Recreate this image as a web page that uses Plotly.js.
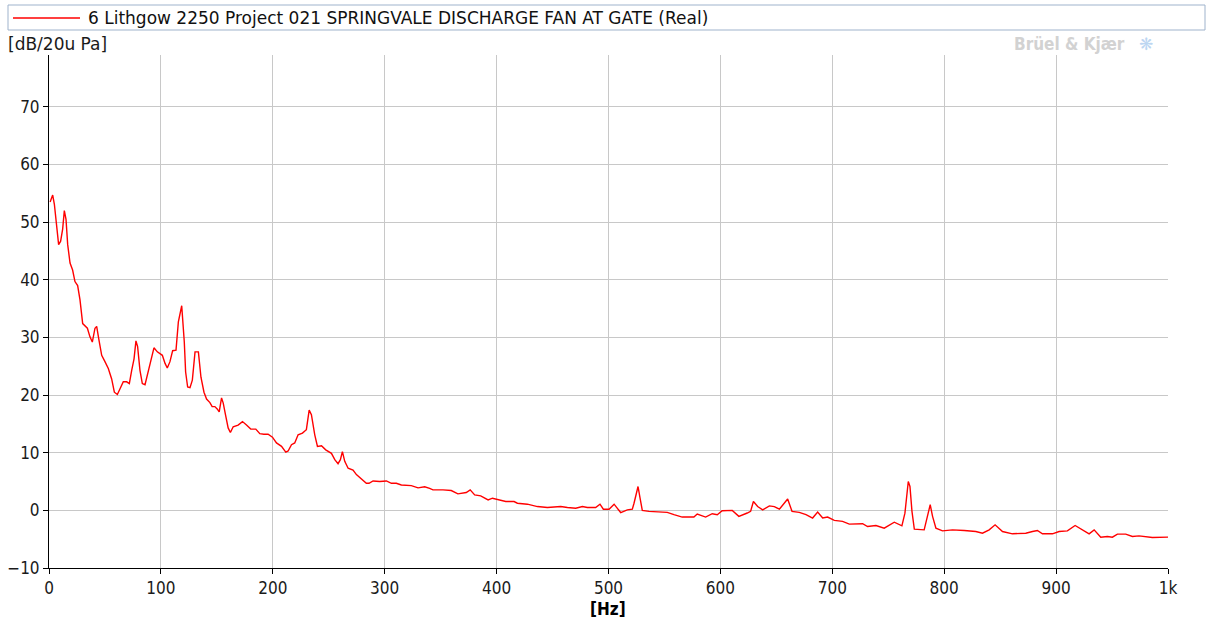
<!DOCTYPE html>
<html>
<head>
<meta charset="utf-8">
<script src="https://cdn.plot.ly/plotly-3.0.1.min.js"></script>
<style>html,body{margin:0;padding:0;background:#fff;}#chart{width:1211px;height:623px;}</style>
</head>
<body>
<div id="chart"></div>
<script>
// Frequency (Hz)
var freqHz = [
  1, 3.3, 4.8, 6.3, 8.6, 10.4, 12.2, 13.7, 15.2, 16.7, 18.8, 21.1, 23.2, 25.6, 27.7, 30.1, 32.2, 34.3, 36.6, 38.7,
  41.1, 42.6, 44.7, 47.1, 50.0, 53.0, 56.0, 58.4, 61.1, 63.4, 66.4, 69.4, 71.8, 73.9, 76.0, 77.7, 79.2, 81.3, 83.4, 85.8,
  88.2, 90.9, 93.8, 96.8, 99.2, 101.3, 103.7, 105.7, 108.1, 110.5, 113.5, 115.6, 118.6, 120.9, 122.1, 123.9, 126.0, 128.1, 130.5, 133.5,
  135.8, 138.5, 140.8, 143.8, 145.8, 148.2, 150.3, 152.1, 154.2, 155.7, 157.7, 160.1, 162.1, 164.6, 169.0, 172.9, 176.5, 180.3, 184.8, 188.4,
  192.0, 195.8, 199.7, 203.3, 207.8, 211.6, 213.7, 216.7, 219.6, 222.6, 226.5, 230.0, 232.5, 234.5, 237.5, 239.9, 243.5, 247.3, 252.4, 255.4,
  258.3, 260.4, 262.2, 264.3, 267.3, 271.7, 274.7, 279.2, 283.6, 286.0, 289.6, 295.5, 301.5, 306.0, 310.4, 314.9, 323.8, 329.8, 335.7, 340.2,
  343.1, 352.1, 359.5, 365.4, 372.9, 376.4, 380.4, 385.8, 392.4, 396.3, 403.7, 408.2, 415.6, 418.6, 427.5, 436.5, 445.4, 457.3, 463.3, 470.7,
  476.7, 481.1, 488.5, 492.4, 495.4, 500.5, 505.0, 510.9, 516.8, 521.3, 522.8, 526.4, 528.2, 530.2, 536.2, 543.6, 552.5, 558.5, 565.9, 576.3,
  579.3, 586.8, 592.7, 597.2, 601.6, 610.6, 616.5, 624.0, 627.0, 629.5, 633.3, 637.8, 643.8, 648.2, 652.7, 660.1, 664.0, 670.5, 676.5, 682.4,
  686.9, 691.4, 695.8, 701.8, 709.2, 715.2, 727.1, 731.5, 739.0, 746.4, 755.4, 762.2, 764.9, 767.9, 769.4, 771.2, 773.3, 782.1, 785.1, 787.5,
  789.6, 792.6, 798.5, 807.4, 817.9, 828.3, 834.2, 840.2, 845.5, 852.1, 861.0, 872.9, 878.9, 883.3, 887.8, 896.7, 902.7, 910.1, 917.0, 923.5,
  929.5, 934.0, 939.9, 945.8, 950.3, 954.8, 962.2, 968.2, 974.1, 986.0, 997.9, 1000
];
// Level (dB re 20 uPa)
var levelDb = [
  53.5, 54.7, 53.1, 49.9, 46.1, 46.7, 48.8, 52.0, 50.5, 46.1, 42.9, 41.7, 39.7, 39.0, 36.5, 32.4, 31.9, 31.6, 30.1, 29.2,
  31.6, 31.9, 29.5, 26.9, 25.8, 24.6, 22.8, 20.5, 20.1, 21.1, 22.3, 22.3, 22.0, 24.3, 26.3, 29.4, 28.4, 24.3, 22.0, 21.8,
  23.7, 26.3, 28.2, 27.5, 27.2, 26.9, 25.5, 24.7, 25.8, 27.7, 27.8, 32.7, 35.5, 29.2, 24.0, 21.4, 21.3, 22.6, 27.5, 27.5,
  23.1, 20.5, 19.3, 18.7, 18.0, 18.0, 17.6, 17.1, 19.5, 18.6, 16.6, 14.3, 13.5, 14.5, 14.8, 15.4, 14.8, 14.1, 14.1, 13.3,
  13.2, 13.2, 12.7, 11.7, 11.1, 10.1, 10.3, 11.4, 11.7, 13.1, 13.4, 14.0, 17.4, 16.6, 13.1, 11.1, 11.2, 10.5, 9.9, 8.8,
  8.1, 8.8, 10.2, 8.5, 7.3, 7.0, 6.2, 5.4, 4.7, 4.7, 5.1, 5.0, 5.1, 4.7, 4.7, 4.4, 4.3, 3.9, 4.1, 3.8,
  3.56, 3.56, 3.44, 2.86, 3.09, 3.56, 2.69, 2.52, 1.82, 2.11, 1.82, 1.53, 1.53, 1.24, 1.07, 0.66, 0.49, 0.66, 0.49, 0.38,
  0.66, 0.49, 0.49, 1.07, 0.20, 0.20, 1.07, -0.38, 0.09, 0.20, 1.24, 4.14, 2.11, 0.0, -0.17, -0.29, -0.35, -0.75, -1.16, -1.16,
  -0.64, -1.16, -0.58, -0.75, -0.06, 0.0, -1.04, -0.46, -0.17, 1.53, 0.66, 0.09, 0.78, 0.66, 0.20, 1.97, -0.17, -0.35, -0.75, -1.33,
  -0.29, -1.33, -1.16, -1.74, -1.91, -2.38, -2.32, -2.80, -2.63, -3.09, -2.05, -2.69, -0.49, 5.01, 4.14, -0.17, -3.27, -3.38, -1.04, 0.98,
  -1.04, -3.09, -3.56, -3.38, -3.50, -3.67, -3.96, -3.38, -2.51, -3.67, -4.07, -3.96, -3.67, -3.50, -4.07, -4.07, -3.67, -3.56, -2.63, -3.38,
  -4.07, -3.38, -4.65, -4.53, -4.65, -4.13, -4.13, -4.53, -4.42, -4.71, -4.65, -4.65
];
var xTickVals = [0, 100, 200, 300, 400, 500, 600, 700, 800, 900, 1000];
var xTickText = ["0", "100", "200", "300", "400", "500", "600", "700", "800", "900", "1k"];
var yTickVals = [-10, 0, 10, 20, 30, 40, 50, 60, 70];
var seriesName = "6 Lithgow 2250 Project 021 SPRINGVALE DISCHARGE FAN AT GATE (Real)";

var FONT = "'DejaVu Sans Condensed', Tahoma, 'DejaVu Sans', sans-serif";
var FONT_WIDE = "'DejaVu Sans', Verdana, sans-serif";
var W = 1211, H = 623, ML = 49, MR = 43, MT = 55, MB = 55;
var PW = W - ML - MR, PH = H - MT - MB;
function px2x(px) { return (px - ML) / PW; }
function py2y(py) { return (H - MB - py) / PH; }

var trace = {
  x: freqHz, y: levelDb, type: 'scatter', mode: 'lines', name: seriesName,
  line: {color: '#ff0000', width: 1.4}, showlegend: false, hoverinfo: 'x+y'
};

var layout = {
  width: W, height: H,
  margin: {l: ML, r: MR, t: MT, b: MB, pad: 0},
  paper_bgcolor: '#ffffff', plot_bgcolor: '#ffffff',
  font: {family: FONT, size: 17, color: '#1a1a1a'},
  xaxis: {
    range: [0, 1000], tickmode: 'array', tickvals: xTickVals, ticktext: xTickText,
    showgrid: true, gridcolor: '#c8c8c8', gridwidth: 1, zeroline: false,
    showline: true, linecolor: '#000000', linewidth: 1, mirror: false,
    ticks: 'outside', ticklen: 5, tickcolor: '#000000', tickfont: {family: FONT, size: 17, color: '#1a1a1a'},
    fixedrange: true
  },
  yaxis: {
    range: [-10, 79], tickmode: 'array', tickvals: yTickVals,
    showgrid: true, gridcolor: '#c8c8c8', gridwidth: 1, zeroline: false,
    showline: true, linecolor: '#000000', linewidth: 1, mirror: false,
    ticks: 'outside', ticklen: 5, tickcolor: '#000000', tickfont: {family: FONT, size: 17, color: '#1a1a1a'},
    fixedrange: true
  },
  shapes: [
    {type: 'rect', xref: 'paper', yref: 'paper', x0: px2x(8), x1: px2x(1205), y0: py2y(30), y1: py2y(5),
     line: {color: '#9fb3cc', width: 1}, fillcolor: 'rgba(0,0,0,0)', layer: 'above'},
    {type: 'line', xref: 'paper', yref: 'paper', x0: px2x(13), x1: px2x(80), y0: py2y(18), y1: py2y(18),
     line: {color: '#ff0000', width: 1.4}}
  ],
  annotations: [
    {text: seriesName, xref: 'paper', yref: 'paper', x: px2x(86), y: py2y(18), xanchor: 'left', yanchor: 'middle',
     showarrow: false, font: {family: FONT_WIDE, size: 17, color: '#111111'}},
    {text: '[dB/20u Pa]', xref: 'paper', yref: 'paper', x: px2x(6), y: py2y(44), xanchor: 'left', yanchor: 'middle',
     showarrow: false, font: {family: FONT_WIDE, size: 17, color: '#1a1a1a'}},
    {text: '<b>[Hz]</b>', xref: 'paper', yref: 'paper', x: px2x(608), y: py2y(609), xanchor: 'center', yanchor: 'middle',
     showarrow: false, font: {family: FONT, size: 17, color: '#000000'}},
    {text: '<b>Brüel &amp; Kjær</b>', xref: 'paper', yref: 'paper', x: px2x(1127), y: py2y(44), xanchor: 'right', yanchor: 'middle',
     showarrow: false, font: {family: FONT, size: 17, color: '#d2d2d2'}},
    {text: '❋', xref: 'paper', yref: 'paper', x: px2x(1146), y: py2y(44), xanchor: 'center', yanchor: 'middle',
     showarrow: false, font: {family: 'DejaVu Sans', size: 17, color: '#bcd6f2'}}
  ]
};

Plotly.newPlot('chart', [trace], layout, {displayModeBar: false, staticPlot: true});
</script>
</body>
</html>
